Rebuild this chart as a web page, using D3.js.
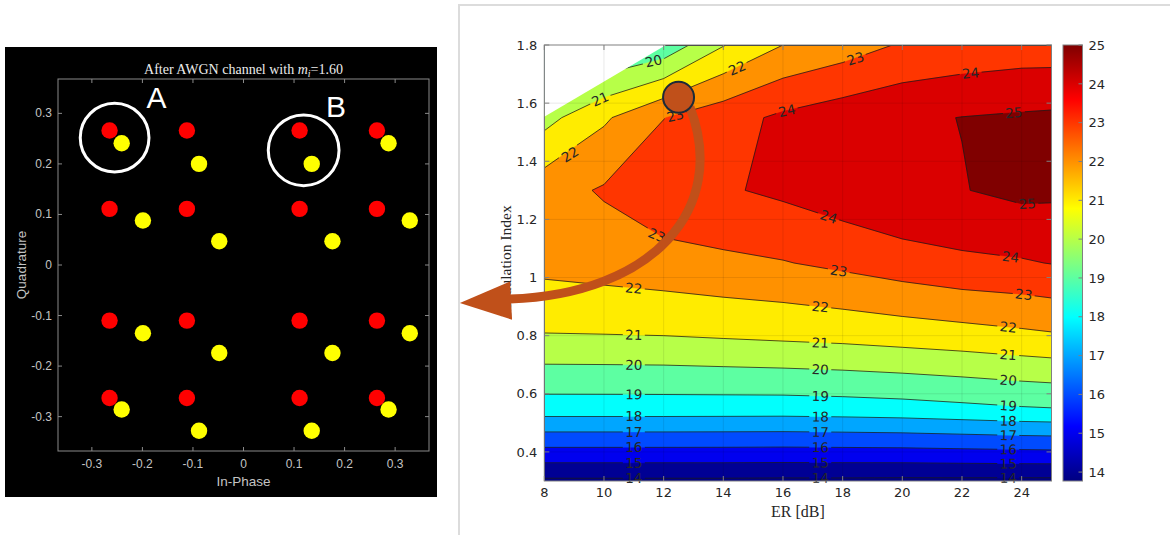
<!DOCTYPE html>
<html>
<head>
<meta charset="utf-8">
<script src="https://cdn.jsdelivr.net/npm/d3@7"></script>
<style>
  body { margin: 0; background: #fff; }
  svg { display: block; }
</style>
</head>
<body>
<svg id="fig" width="1170" height="535"></svg>
<script>
const W = 1170, H = 535;

// ---------- left panel: constellation after AWGN channel ----------
const redI = [-0.265, -0.112, 0.111, 0.264, -0.265, -0.112, 0.111, 0.264,
              -0.265, -0.112, 0.111, 0.264, -0.265, -0.112, 0.111, 0.264];
const redQ = [0.266, 0.266, 0.266, 0.266, 0.111, 0.111, 0.111, 0.111,
              -0.110, -0.110, -0.110, -0.110, -0.263, -0.263, -0.263, -0.263];
const yellowI = [-0.241, -0.088, 0.135, 0.287, -0.199, -0.048, 0.176, 0.329,
                 -0.199, -0.048, 0.176, 0.329, -0.241, -0.088, 0.135, 0.287];
const yellowQ = [0.241, 0.200, 0.200, 0.241, 0.088, 0.047, 0.047, 0.088,
                 -0.135, -0.174, -0.174, -0.135, -0.286, -0.328, -0.328, -0.286];
const iqTicks = [-0.3, -0.2, -0.1, 0, 0.1, 0.2, 0.3];
const markName = ['A', 'B'];
const markI = [-0.255, 0.119];
const markQ = [0.252, 0.227];
const markR = [0.068, 0.070];
const markLabelI = [-0.172, 0.183];
const markLabelQ = [0.311, 0.292];

// ---------- right panel: contour of metric vs ER and modulation index ----------
const erGrid = [8, 10, 12, 14, 16, 18, 20, 22, 24, 25];
const miGrid = [0.3, 0.55, 0.8, 1.05, 1.3, 1.55, 1.8];
const z_mi030 = [13.82, 13.82, 13.82, 13.82, 13.80, 13.80, 13.78, 13.78, 13.77, 13.77];
const z_mi055 = [18.53, 18.53, 18.53, 18.52, 18.51, 18.56, 18.64, 18.78, 18.93, 18.98];
const z_mi080 = [20.95, 20.97, 21.00, 21.10, 21.20, 21.30, 21.45, 21.60, 21.79, 21.89];
const z_mi105 = [22.30, 22.45, 22.62, 22.80, 22.95, 23.22, 23.53, 23.80, 23.91, 24.03];
const z_mi130 = [22.60, 23.10, 23.71, 23.89, 24.19, 24.57, 24.95, 24.96, 25.25, 25.20];
const z_mi155 = [20.65, 21.85, 22.98, 23.60, 24.19, 24.57, 24.83, 25.02, 25.13, 25.18];
const z_mi180 = [18.00, 18.80, 19.30, 20.95, 22.00, 22.50, 23.10, 23.32, 23.47, 23.47];
const levels = [14, 15, 16, 17, 18, 19, 20, 21, 22, 23, 24, 25];
const zRange = [13.77, 25.0];
const erTicks = [8, 10, 12, 14, 16, 18, 20, 22, 24];
const miTicks = [0.4, 0.6, 0.8, 1.0, 1.2, 1.4, 1.6, 1.8];
const cbTicks = [14, 15, 16, 17, 18, 19, 20, 21, 22, 23, 24, 25];
// region without data (top-left corner)
const blankER = [8, 12.08, 8];
const blankMI = [1.553, 1.8, 1.8];
// inline contour labels: ER, approx. modulation index, level
const labelER = [11.0, 11.0, 11.0, 11.0, 11.0, 11.0, 11.0, 11.0, 11.0,
                 17.87, 17.25, 17.25, 17.25, 17.25, 17.25, 17.25, 17.25, 17.25, 17.25,
                 24.07, 23.55, 23.55, 23.55, 23.55, 23.55, 23.55, 23.55, 23.55, 23.55,
                 23.63, 17.53, 24.19, 23.74, 22.29, 16.13, 18.43, 14.46, 11.77, 12.39, 8.86, 9.87, 11.66];
const labelMI = [0.96, 0.802, 0.699, 0.597, 0.523, 0.468, 0.414, 0.362, 0.31,
                 1.014, 0.897, 0.779, 0.685, 0.596, 0.525, 0.474, 0.42, 0.369, 0.314,
                 0.939, 0.826, 0.734, 0.645, 0.56, 0.508, 0.46, 0.411, 0.365, 0.314,
                 1.063, 1.206, 1.271, 1.566, 1.703, 1.577, 1.76, 1.731, 1.168, 1.566, 1.446, 1.606, 1.754];
const labelLev = [22, 21, 20, 19, 18, 17, 16, 15, 14,
                  23, 22, 21, 20, 19, 18, 17, 16, 15, 14,
                  23, 22, 21, 20, 19, 18, 17, 16, 15, 14,
                  24, 24, 25, 25, 24, 24, 23, 22, 23, 23, 22, 21, 20];
// operating point and arrow towards the constellation
const pointER = 12.5, pointMI = 1.62;
const arrowER = [12.88, 14.2, 11.6, 6.85];
const arrowMI = [1.587, 1.234, 0.943, 0.926];
const headER = [5.17, 6.85, 6.92];
const headMI = [0.912, 0.986, 0.855];

const svg = d3.select('#fig');
const defs = svg.append('defs');

// ================= left panel =================
svg.append('rect').attr('x', 5).attr('y', 47).attr('width', 432).attr('height', 450).attr('fill', '#000');

const lx = d3.scaleLinear().domain([-0.367, 0.367]).range([58, 429]);
const ly = d3.scaleLinear().domain([-0.368, 0.368]).range([451, 79]);
const L = svg.append('g');
const iqFmt = d => String(Math.round(d * 10) / 10);

L.append('rect').attr('x', 58).attr('y', 79).attr('width', 371).attr('height', 372)
  .attr('fill', 'none').attr('stroke', '#8a8a8a').attr('stroke-width', 1);
iqTicks.forEach(t => {
  L.append('line').attr('x1', lx(t)).attr('x2', lx(t)).attr('y1', 451).attr('y2', 447).attr('stroke', '#8a8a8a');
  L.append('line').attr('x1', lx(t)).attr('x2', lx(t)).attr('y1', 79).attr('y2', 83).attr('stroke', '#8a8a8a');
  L.append('line').attr('y1', ly(t)).attr('y2', ly(t)).attr('x1', 58).attr('x2', 62).attr('stroke', '#8a8a8a');
  L.append('line').attr('y1', ly(t)).attr('y2', ly(t)).attr('x1', 429).attr('x2', 425).attr('stroke', '#8a8a8a');
  L.append('text').attr('x', lx(t)).attr('y', 468).attr('text-anchor', 'middle')
    .attr('font-family', 'Liberation Sans, Arial, sans-serif').attr('font-size', 12).attr('fill', '#c4c4c4').text(iqFmt(t));
  L.append('text').attr('x', 52).attr('y', ly(t) + 4).attr('text-anchor', 'end')
    .attr('font-family', 'Liberation Sans, Arial, sans-serif').attr('font-size', 12).attr('fill', '#c4c4c4').text(iqFmt(t));
});
L.append('text').attr('x', 243.5).attr('y', 486).attr('text-anchor', 'middle')
  .attr('font-family', 'Liberation Sans, Arial, sans-serif').attr('font-size', 13.5).attr('fill', '#c4c4c4').text('In-Phase');
L.append('text').attr('transform', 'translate(26,265) rotate(-90)').attr('text-anchor', 'middle')
  .attr('font-family', 'Liberation Sans, Arial, sans-serif').attr('font-size', 13.5).attr('fill', '#c4c4c4').text('Quadrature');
const title = L.append('text').attr('x', 243.5).attr('y', 74).attr('text-anchor', 'middle')
  .attr('font-family', 'Liberation Serif, Times New Roman, serif').attr('font-size', 14).attr('fill', '#ececec');
title.append('tspan').text('After AWGN channel with ');
title.append('tspan').attr('font-style', 'italic').text('m');
title.append('tspan').attr('font-style', 'italic').attr('font-size', 10).attr('dy', 3).text('i');
title.append('tspan').attr('dy', -3).text('=1.60');

L.selectAll('circle.red').data(d3.range(redI.length)).join('circle').attr('class', 'red')
  .attr('cx', i => lx(redI[i])).attr('cy', i => ly(redQ[i])).attr('r', 8.2).attr('fill', '#ff0000');
L.selectAll('circle.yel').data(d3.range(yellowI.length)).join('circle').attr('class', 'yel')
  .attr('cx', i => lx(yellowI[i])).attr('cy', i => ly(yellowQ[i])).attr('r', 8.2).attr('fill', '#ffff00');

markName.forEach((name, k) => {
  L.append('circle').attr('cx', lx(markI[k])).attr('cy', ly(markQ[k]))
    .attr('r', lx(markR[k]) - lx(0)).attr('fill', 'none').attr('stroke', '#fff').attr('stroke-width', 3);
  L.append('text').attr('x', lx(markLabelI[k])).attr('y', ly(markLabelQ[k])).attr('text-anchor', 'middle')
    .attr('font-family', 'Liberation Sans, Arial, sans-serif').attr('font-size', 30).attr('fill', '#fff').text(name);
});

// ================= right panel =================
svg.append('rect').attr('x', 459).attr('y', 5).attr('width', 740).attr('height', 560)
  .attr('fill', '#fff').attr('stroke', '#dcdcdc').attr('stroke-width', 2);

const xR = d3.scaleLinear().domain([8, 25]).range([544.3, 1051.5]);
const yR = d3.scaleLinear().domain([0.3, 1.8]).range([481, 45]);
const cR = d3.scaleLinear().domain(zRange).range([481, 45]);

function jet(t) {
  t = Math.max(0, Math.min(1, t));
  const c = v => Math.round(255 * Math.max(0, Math.min(1, v)));
  return `rgb(${c(1.5 - Math.abs(4 * t - 3))},${c(1.5 - Math.abs(4 * t - 2))},${c(1.5 - Math.abs(4 * t - 1))})`;
}
const colorOf = v => jet((v - zRange[0]) / (zRange[1] - zRange[0]));

const zRows = [z_mi030, z_mi055, z_mi080, z_mi105, z_mi130, z_mi155, z_mi180];
const nx = erGrid.length, ny = miGrid.length;
const values = [].concat(...zRows);
const gx = d3.scaleLinear().domain(d3.range(nx)).range(erGrid).clamp(true);
const gy = d3.scaleLinear().domain(d3.range(ny)).range(miGrid).clamp(true);
const proj = d3.geoTransform({
  point(x, y) { this.stream.point(xR(gx(x - 0.5)), yR(gy(y - 0.5))); }
});
const path = d3.geoPath(proj);
const contours = d3.contours().size([nx, ny]).thresholds(levels).smooth(true)(values);

defs.append('clipPath').attr('id', 'plotClip').append('rect')
  .attr('x', xR(8)).attr('y', yR(1.8)).attr('width', xR(25) - xR(8)).attr('height', yR(0.3) - yR(1.8));

// bilinear lookup used to place the inline labels on the lines
function zAt(er, mi) {
  const i = Math.max(0, Math.min(nx - 2, d3.bisectRight(erGrid, er) - 1));
  const j = Math.max(0, Math.min(ny - 2, d3.bisectRight(miGrid, mi) - 1));
  const tx = (er - erGrid[i]) / (erGrid[i + 1] - erGrid[i]);
  const ty = (mi - miGrid[j]) / (miGrid[j + 1] - miGrid[j]);
  return zRows[j][i] * (1 - tx) * (1 - ty) + zRows[j][i + 1] * tx * (1 - ty)
       + zRows[j + 1][i] * (1 - tx) * ty + zRows[j + 1][i + 1] * tx * ty;
}
const labels = labelER.map((er, k) => {
  const lev = labelLev[k];
  let best = labelMI[k], bd = Infinity;
  for (let m = labelMI[k] - 0.06; m <= labelMI[k] + 0.06; m += 0.0005) {
    const d = Math.abs(zAt(er, m) - lev);
    if (d < bd) { bd = d; best = m; }
  }
  const e = 0.05, em = 0.004;
  const dx = (zAt(er + e, best) - zAt(er - e, best)) / (xR(er + e) - xR(er - e));
  const dy = (zAt(er, best + em) - zAt(er, best - em)) / (yR(best + em) - yR(best - em));
  let a = Math.atan2(-dx, dy) * 180 / Math.PI;
  if (a > 90) a -= 180;
  if (a < -90) a += 180;
  return { x: xR(er), y: yR(best), a: a, t: String(lev) };
});

const mask = defs.append('mask').attr('id', 'lblMask').attr('maskUnits', 'userSpaceOnUse')
  .attr('x', 0).attr('y', 0).attr('width', W).attr('height', H);
mask.append('rect').attr('width', W).attr('height', H).attr('fill', '#fff');
labels.forEach(l => mask.append('rect').attr('x', -11).attr('y', -7).attr('width', 22).attr('height', 14)
  .attr('fill', '#000').attr('transform', `translate(${l.x},${l.y}) rotate(${l.a})`));

const P = svg.append('g').attr('clip-path', 'url(#plotClip)');
P.append('rect').attr('x', xR(8)).attr('y', yR(1.8)).attr('width', xR(25) - xR(8))
  .attr('height', yR(0.3) - yR(1.8)).attr('fill', colorOf(zRange[0]));
P.selectAll('path.band').data(contours).join('path').attr('class', 'band')
  .attr('d', path).attr('fill', d => colorOf(d.value)).attr('stroke', d => colorOf(d.value)).attr('stroke-width', 0.4);
P.append('g').attr('mask', 'url(#lblMask)').selectAll('path').data(contours).join('path')
  .attr('d', path).attr('fill', 'none').attr('stroke', '#1a1a1a').attr('stroke-width', 0.75);
P.append('path').attr('fill', '#fff')
  .attr('d', d3.line()(blankER.map((er, k) => [xR(er), yR(blankMI[k])])) + 'Z');

// grid
const G = svg.append('g').attr('stroke', '#000').attr('stroke-opacity', 0.13).attr('stroke-width', 0.7);
erTicks.slice(1).forEach(t => G.append('line').attr('x1', xR(t)).attr('x2', xR(t)).attr('y1', yR(0.3)).attr('y2', yR(1.8)));
miTicks.slice(0, -1).forEach(t => G.append('line').attr('y1', yR(t)).attr('y2', yR(t)).attr('x1', xR(8)).attr('x2', xR(25)));

// contour labels
svg.append('g').selectAll('text').data(labels).join('text')
  .attr('transform', d => `translate(${d.x},${d.y}) rotate(${d.a})`)
  .attr('text-anchor', 'middle').attr('dy', '0.36em')
  .attr('font-family', 'DejaVu Sans, sans-serif').attr('font-size', 13.5).attr('fill', '#262626')
  .text(d => d.t);

// axes box and ticks
const A = svg.append('g');
const axCol = '#808080';
A.append('rect').attr('x', xR(8)).attr('y', yR(1.8)).attr('width', xR(25) - xR(8)).attr('height', yR(0.3) - yR(1.8))
  .attr('fill', 'none').attr('stroke', axCol).attr('stroke-width', 1);
const tickFont = 'DejaVu Sans, sans-serif';
erTicks.forEach(t => {
  A.append('line').attr('x1', xR(t)).attr('x2', xR(t)).attr('y1', yR(0.3)).attr('y2', yR(0.3) - 5).attr('stroke', axCol);
  A.append('line').attr('x1', xR(t)).attr('x2', xR(t)).attr('y1', yR(1.8)).attr('y2', yR(1.8) + 5).attr('stroke', axCol);
  A.append('text').attr('x', xR(t)).attr('y', yR(0.3) + 16).attr('text-anchor', 'middle')
    .attr('font-family', tickFont).attr('font-size', 13).attr('fill', '#262626').text(t);
});
miTicks.forEach(t => {
  A.append('line').attr('y1', yR(t)).attr('y2', yR(t)).attr('x1', xR(8)).attr('x2', xR(8) + 5).attr('stroke', axCol);
  A.append('line').attr('y1', yR(t)).attr('y2', yR(t)).attr('x1', xR(25)).attr('x2', xR(25) - 5).attr('stroke', axCol);
  A.append('text').attr('x', xR(8) - 7).attr('y', yR(t)).attr('dy', '0.36em').attr('text-anchor', 'end')
    .attr('font-family', tickFont).attr('font-size', 13).attr('fill', '#262626').text(String(+t.toFixed(1)));
});
A.append('text').attr('x', (xR(8) + xR(25)) / 2).attr('y', 517).attr('text-anchor', 'middle')
  .attr('font-family', 'Liberation Serif, Times New Roman, serif').attr('font-size', 16).attr('fill', '#262626').text('ER [dB]');
A.append('text').attr('transform', `translate(511,${(yR(0.3) + yR(1.8)) / 2 - 2}) rotate(-90)`).attr('text-anchor', 'middle')
  .attr('font-family', 'Liberation Serif, Times New Roman, serif').attr('font-size', 15.5).attr('fill', '#262626').text('Modulation Index');

// colorbar
const grad = defs.append('linearGradient').attr('id', 'jetGrad').attr('x1', 0).attr('y1', 1).attr('x2', 0).attr('y2', 0);
d3.range(65).forEach(k => grad.append('stop').attr('offset', k / 64).attr('stop-color', jet(k / 64)));
const cbX = 1063, cbW = 19.5;
A.append('rect').attr('x', cbX).attr('y', cR(zRange[1])).attr('width', cbW).attr('height', cR(zRange[0]) - cR(zRange[1]))
  .attr('fill', 'url(#jetGrad)').attr('stroke', axCol).attr('stroke-width', 1);
cbTicks.forEach(t => {
  A.append('line').attr('x1', cbX + cbW).attr('x2', cbX + cbW - 4).attr('y1', cR(t)).attr('y2', cR(t)).attr('stroke', axCol);
  A.append('text').attr('x', cbX + cbW + 6).attr('y', cR(t)).attr('dy', '0.36em')
    .attr('font-family', tickFont).attr('font-size', 13).attr('fill', '#262626').text(t);
});

// operating point + arrow
const arrowPts = arrowER.map((er, k) => [xR(er), yR(arrowMI[k])]);
svg.append('path')
  .attr('d', `M${arrowPts[0]}C${arrowPts[1]} ${arrowPts[2]} ${arrowPts[3]}`)
  .attr('fill', 'none').attr('stroke', '#c0501a').attr('stroke-width', 9);
svg.append('path')
  .attr('d', d3.line()(headER.map((er, k) => [xR(er), yR(headMI[k])])) + 'Z')
  .attr('fill', '#c0501a');
svg.append('circle').attr('cx', xR(pointER)).attr('cy', yR(pointMI)).attr('r', 15.5)
  .attr('fill', '#c0501a').attr('stroke', '#1c2a38').attr('stroke-width', 2);
</script>
</body>
</html>
